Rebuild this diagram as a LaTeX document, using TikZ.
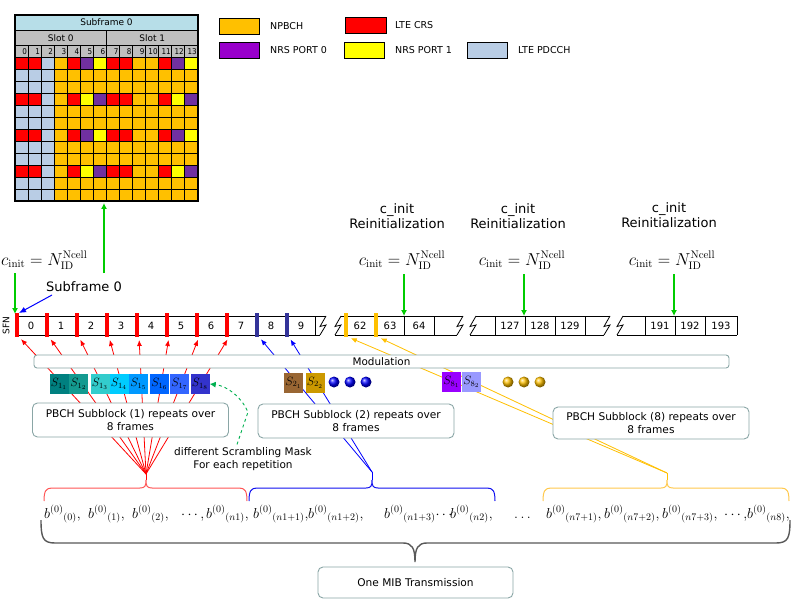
\documentclass[tikz,border=0pt]{standalone}
\usepackage[no-math]{fontspec}
\newfontfamily\vs{DejaVu Sans}
\newfontfamily\vsc{DejaVu Sans Condensed}
\usetikzlibrary{arrows.meta,calc}
\definecolor{cO}{HTML}{FFC000}
\definecolor{cR}{HTML}{FF0000}
\definecolor{cB}{HTML}{B9CDE5}
\definecolor{cP}{HTML}{7030A0}
\definecolor{cY}{HTML}{FFFF00}
\definecolor{lP}{HTML}{9900CC}
\definecolor{hdr}{HTML}{B7DEE8}
\definecolor{sg}{HTML}{BFBFBF}
\definecolor{bord}{HTML}{8AA6A6}
\definecolor{gA}{HTML}{00CC00}
\definecolor{gD}{HTML}{00B050}
\definecolor{navy}{HTML}{333399}
\definecolor{braceR}{HTML}{FF5555}
\definecolor{braceB}{HTML}{1010F0}
\definecolor{braceG}{HTML}{FFC94D}
\definecolor{braceK}{HTML}{595959}
\definecolor{sA}{HTML}{008080}
\definecolor{sB}{HTML}{149A90}
\definecolor{sC}{HTML}{33CCCC}
\definecolor{sD}{HTML}{00CCFF}
\definecolor{sE}{HTML}{0099FF}
\definecolor{sF}{HTML}{0066FF}
\definecolor{sG}{HTML}{3366FF}
\definecolor{sH}{HTML}{3333CC}
\definecolor{sI}{HTML}{996633}
\definecolor{sJ}{HTML}{CC9900}
\definecolor{sK}{HTML}{9900FF}
\definecolor{sL}{HTML}{9999FF}
\tikzset{
  cellbox/.style={draw=black, line width=0.9pt},
  gridtxt/.style={font=\vs\fontsize{9}{10}\selectfont, inner sep=0pt},
  numtxt/.style={font=\vsc\fontsize{8}{9}\selectfont, inner sep=0pt, anchor=east},
  legbox/.style={draw=black, line width=0.8pt},
  legtxt/.style={font=\vs\fontsize{9.5}{11}\selectfont, anchor=west, inner sep=0pt},
  garrow/.style={draw=gA, line width=1.1pt, -{Latex[length=6pt,width=6pt]}},
  mk/.style={minimum width=4pt, minimum height=24pt, inner sep=0pt, outer sep=0pt},
  sfnline/.style={draw=black, line width=0.8pt},
  sfnnum/.style={font=\vs\fontsize{10}{12}\selectfont, inner sep=0pt},
  fml/.style={font=\fontsize{16}{18}\selectfont, inner sep=0pt},
  bigtxt/.style={font=\vs\fontsize{13}{16}\selectfont, inner sep=0pt, align=center},
  fanR/.style={draw=red, line width=0.8pt, -{Latex[length=6pt,width=5pt]}, shorten >=3pt},
  fanB/.style={draw=blue, line width=0.8pt, -{Latex[length=6pt,width=5pt]}, shorten >=3pt},
  fanG/.style={draw=cO, line width=0.8pt, -{Latex[length=6pt,width=5pt]}, shorten >=3pt},
  sbox/.style={minimum width=19pt, minimum height=20pt, inner sep=0pt, font=\fontsize{12}{12}\selectfont},
  callout/.style={draw=bord, fill=white, rounded corners=5pt, line width=0.9pt, align=center,
     font=\vs\fontsize{10.6}{12.5}\selectfont, inner sep=0pt, minimum width=196pt, minimum height=34pt},
  bb/.style={font=\fontsize{14}{15}\selectfont, anchor=base west, inner sep=0pt},
  zz/.pic={\draw[sfnline] (8,0) -- (2,10.5) -- (8,9) -- (2,19);}
}
\begin{document}
\begin{tikzpicture}[x=1pt,y=-1pt]
\useasboundingbox[fill=white] (0,0) rectangle (792,604);
\def\cw{13.0714}
% ---------------- resource grid
\filldraw[fill=hdr, cellbox] (15,15) rectangle (198,30);
\node[gridtxt] (gsf) at (106.5,22.5) {Subframe 0};
\filldraw[fill=sg, cellbox] (15,30) rectangle (106.5,45);
\filldraw[fill=sg, cellbox] (106.5,30) rectangle (198,45);
\node[gridtxt] (gs0) at (60.75,37.8) {Slot 0};
\node[gridtxt] (gs1) at (152.25,37.8) {Slot 1};
\foreach \c in {0,...,13}{
  \filldraw[fill=sg, cellbox] ({15+\c*\cw},45) rectangle ++(\cw,12);
  \node[numtxt] (gn\c) at ({15+(\c+1)*\cw-1},51.3) {\c};
}
\foreach \row [count=\r from 0] in {
 {cR,cR,cB,cO,cR,cP,cY,cR,cR,cO,cO,cR,cP,cY},
 {cB,cB,cB,cO,cO,cO,cO,cO,cO,cO,cO,cO,cO,cO},
 {cB,cB,cB,cO,cO,cO,cO,cO,cO,cO,cO,cO,cO,cO},
 {cR,cR,cB,cO,cR,cY,cP,cR,cR,cO,cO,cR,cY,cP},
 {cB,cB,cB,cO,cO,cO,cO,cO,cO,cO,cO,cO,cO,cO},
 {cB,cB,cB,cO,cO,cO,cO,cO,cO,cO,cO,cO,cO,cO},
 {cR,cR,cB,cO,cR,cP,cY,cR,cR,cO,cO,cR,cP,cY},
 {cB,cB,cB,cO,cO,cO,cO,cO,cO,cO,cO,cO,cO,cO},
 {cB,cB,cB,cO,cO,cO,cO,cO,cO,cO,cO,cO,cO,cO},
 {cR,cR,cB,cO,cR,cY,cP,cR,cR,cO,cO,cR,cY,cP},
 {cB,cB,cB,cO,cO,cO,cO,cO,cO,cO,cO,cO,cO,cO},
 {cB,cB,cB,cO,cO,cO,cO,cO,cO,cO,cO,cO,cO,cO}}{
  \foreach \col [count=\c from 0] in \row {
    \filldraw[fill=\col, cellbox] ({15+\c*\cw},{57+\r*12}) rectangle ++(\cw,12);
  }
}
\draw[line width=1.3pt] (15,15) rectangle (198,201);
% ---------------- legend
\filldraw[fill=cO, legbox] (219,18) rectangle (259,34);
\node[legtxt] (l1) at (270,26) {NPBCH};
\filldraw[fill=cR, legbox] (345,17) rectangle (386,33);
\node[legtxt] (l2) at (395,25) {LTE CRS};
\filldraw[fill=lP, legbox] (219,42) rectangle (259,58);
\node[legtxt] (l3) at (270,50) {NRS PORT 0};
\filldraw[fill=cY, legbox] (344,42) rectangle (384,58);
\node[legtxt] (l4) at (395,50) {NRS PORT 1};
\filldraw[fill=cB, legbox] (467,42) rectangle (507,58);
\node[legtxt] (l5) at (518,50) {LTE PDCCH};
% ---------------- arrow to grid
\coordinate (gridbot) at (104,203);
\coordinate (gsrc) at (104,273);
\draw[garrow] (gsrc) -- (gridbot);
% ---------------- c_init formulas
\node[fml, anchor=base west] (ci0) at (1,265) {$c_{\mathrm{init}} = N_{\mathrm{ID}}^{\mathrm{Ncell}}$};
\node[fml, anchor=base] (ci1) at (402,265) {$c_{\mathrm{init}} = N_{\mathrm{ID}}^{\mathrm{Ncell}}$};
\node[fml, anchor=base] (ci2) at (522,265) {$c_{\mathrm{init}} = N_{\mathrm{ID}}^{\mathrm{Ncell}}$};
\node[fml, anchor=base] (ci3) at (672,265) {$c_{\mathrm{init}} = N_{\mathrm{ID}}^{\mathrm{Ncell}}$};
\node[bigtxt] (re1) at (397,216) {c\_init\\[-1pt]Reinitialization};
\node[bigtxt] (re2) at (518,216) {c\_init\\[-1pt]Reinitialization};
\node[bigtxt] (re3) at (669,215) {c\_init\\[-1pt]Reinitialization};
\node[bigtxt] (sub0) at (84,287) {Subframe 0};
% ---------------- SFN row
\node[font=\vs\fontsize{9}{10}\selectfont, rotate=90, inner sep=0pt] (sfn) at (6,325.5) {SFN};
% segment 1
\draw[sfnline] (15,316) -- (326,316);
\draw[sfnline] (15,335) -- (320,335);
\foreach \x in {15,45,...,315}{ \draw[sfnline] (\x,316) -- (\x,335); }
\pic at (318,316) {zz};
% segment 2
\pic at (333,316) {zz};
\draw[sfnline] (341,316) -- (463,316);
\draw[sfnline] (335,335) -- (457,335);
\foreach \x in {344,374,404,434}{ \draw[sfnline] (\x,316) -- (\x,335); }
\pic at (455,316) {zz};
% segment 3
\pic at (468,316) {zz};
\draw[sfnline] (476,316) -- (610,316);
\draw[sfnline] (470,335) -- (604,335);
\foreach \x in {495,525,555,585}{ \draw[sfnline] (\x,316) -- (\x,335); }
\pic at (602,316) {zz};
% segment 4
\pic at (615,316) {zz};
\draw[sfnline] (623,316) -- (737,316);
\draw[sfnline] (617,335) -- (737,335);
\foreach \x in {645,675,705,737}{ \draw[sfnline] (\x,316) -- (\x,335); }
% numbers
\foreach \n [count=\k from 0] in {0,...,9}{ \node[sfnnum] (n\n) at ({31+30*\k},326) {\n}; }
\node[sfnnum] (n62) at (360,326) {62};
\node[sfnnum] (n63) at (390,326) {63};
\node[sfnnum] (n64) at (419,326) {64};
\node[sfnnum] (n127) at (510,326) {127};
\node[sfnnum] (n128) at (540,326) {128};
\node[sfnnum] (n129) at (570,326) {129};
\node[sfnnum] (n191) at (660,326) {191};
\node[sfnnum] (n192) at (690,326) {192};
\node[sfnnum] (n193) at (721,326) {193};
% markers
\foreach \k in {0,...,7}{ \node[mk, fill=cR] (m\k) at ({17+30*\k},325) {}; }
\node[mk, fill=navy] (m8) at (257,325) {};
\node[mk, fill=navy] (m9) at (287,325) {};
\node[mk, fill=cO] (m62) at (346,325) {};
\node[mk, fill=cO] (m63) at (376,325) {};
% green arrows
\coordinate (t0) at (15,314);
\coordinate (t1) at (404,316);
\coordinate (t2) at (524,316);
\coordinate (t3) at (674,316);
\draw[garrow] (15,273) -- (t0);
\draw[garrow] (ci1.south -| t1) ++(0,5) -- (t1);
\draw[garrow] (ci2.south -| t2) ++(0,5) -- (t2);
\draw[garrow] (ci3.south -| t3) ++(0,5) -- (t3);
\coordinate (bs) at (52,295);
\draw[draw=blue, line width=1pt, -{Latex[length=7pt,width=6pt]}] (bs) -- (19,313);
% ---------------- fan lines
\coordinate (rapex) at (146,474);
\coordinate (bapex) at (372,472);
\coordinate (gapex) at (667,473);
\foreach \k in {0,...,7}{ \draw[fanR] (rapex) -- (m\k.south east); }
\draw[fanB] (bapex) -- (m8.south east);
\draw[fanB] (bapex) -- (m9.south east);
\draw[fanG] (gapex) -- (m62.south east);
\draw[fanG] (gapex) -- (m63.south east);
\draw[draw=red, line width=0.8pt] (rapex) -- (146,480);
\draw[draw=blue, line width=0.8pt] (bapex) -- (372,480);
\draw[draw=cO, line width=0.8pt] (gapex) -- (667,480);
% ---------------- modulation bar
\node[draw=bord, fill=white, rounded corners=3pt, line width=0.9pt, minimum width=695pt, minimum height=13pt,
      inner sep=0pt, font=\vs\fontsize{10.4}{12}\selectfont] (mod) at (381.5,361.5) {Modulation};
% ---------------- subblock symbols
\node[sbox, fill=sA] (s11) at (59,384) {$S_{1_1}$};
\node[sbox, fill=sB] (s12) at (78.5,384) {$S_{1_2}$};
\node[sbox, fill=sC] (s13) at (100,384) {$S_{1_3}$};
\node[sbox, fill=sD] (s14) at (119,384) {$S_{1_4}$};
\node[sbox, fill=sE] (s15) at (138.5,384) {$S_{1_5}$};
\node[sbox, fill=sF] (s16) at (159.5,384) {$S_{1_6}$};
\node[sbox, fill=sG] (s17) at (179.5,384) {$S_{1_7}$};
\node[sbox, fill=sH] (s18) at (200,384) {$S_{1_8}$};
\node[sbox, fill=sI] (s21) at (293.5,382.5) {$S_{2_1}$};
\node[sbox, fill=sJ] (s22) at (315,382.5) {$S_{2_2}$};
\node[sbox, fill=sK] (s81) at (451.5,382) {$S_{8_1}$};
\node[sbox, fill=sL] (s82) at (471.5,382) {$S_{8_2}$};
\foreach \x in {334,350,366}{ \shade[ball color=blue] (\x,382) circle (5.5pt); }
\foreach \x in {508,524,540}{ \shade[ball color=cO] (\x,382) circle (5.5pt); }
% ---------------- callouts
\node[callout] (c1) at (130.5,420) {PBCH Subblock (1) repeats over\\8 frames};
\node[callout] (c2) at (356,421) {PBCH Subblock (2) repeats over\\8 frames};
\node[callout, minimum height=32pt] (c8) at (651,423) {PBCH Subblock (8) repeats over\\8 frames};
\node[font=\vs\fontsize{10.5}{12.5}\selectfont, align=center, inner sep=0pt] (scr) at (243,459)
   {different Scrambling Mask\\For each repetition};
\draw[draw=gD, line width=0.9pt, dashed, -{Latex[length=6pt,width=6pt]}]
   ($(scr.north)+(-6,-3)$) -- (248,412) .. controls (242,398) and (228,386) .. (s18.east);
% ---------------- coloured braces
\draw[draw=braceR, line width=1pt] (44,501) .. controls (44,491) and (46,488) .. (52,488) -- (140,488)
   .. controls (145,488) and (146,486) .. (146,480) .. controls (146,486) and (147,488) .. (152,488)
   -- (239,488) .. controls (245,488) and (247,491) .. (247,501);
\draw[draw=braceB, line width=1pt] (249,501) .. controls (249,491) and (251,488) .. (257,488) -- (366,488)
   .. controls (371,488) and (372,486) .. (372,480) .. controls (372,486) and (373,488) .. (378,488)
   -- (487,488) .. controls (493,488) and (495,491) .. (495,501);
\draw[draw=braceG, line width=1pt] (543,501) .. controls (543,491) and (545,488) .. (551,488) -- (661,488)
   .. controls (666,488) and (667,486) .. (667,480) .. controls (667,486) and (668,488) .. (673,488)
   -- (781,488) .. controls (787,488) and (789,491) .. (789,501);
% ---------------- bit sequence
\node[bb] (b1) at (44,518) {$b^{(0)}{}_{(0)},$};
\node[bb] (b2) at (88,518) {$b^{(0)}{}_{(1)},$};
\node[bb] (b3) at (132,518) {$b^{(0)}{}_{(2)},$};
\node[bb] (b4) at (181,518) {$\cdots,$};
\node[bb] (b5) at (206,518) {$b^{(0)}{}_{(n1)},$};
\node[bb] (b6) at (253,518) {$b^{(0)}{}_{(n1+1)},$};
\node[bb] (b7) at (308,518) {$b^{(0)}{}_{(n1+2)},$};
\node[bb] (b8) at (384,518) {$b^{(0)}{}_{(n1+3)}\!\cdots$};
\node[bb] (b10) at (450,518) {$b^{(0)}{}_{(n2)},$};
\node[bb] (b11) at (514,518) {$\ldots$};
\node[bb] (b12) at (546,518) {$b^{(0)}{}_{(n7+1)},$};
\node[bb] (b13) at (604,518) {$b^{(0)}{}_{(n7+2)},$};
\node[bb] (b14) at (662,518) {$b^{(0)}{}_{(n7+3)},$};
\node[bb] (b15) at (724,518) {$\cdots,$};
\node[bb] (b16) at (747,518) {$b^{(0)}{}_{(n8)},$};
% ---------------- big brace
\draw[draw=braceK, line width=1.4pt] (41,520) .. controls (41,538) and (43,543) .. (55,543) -- (403,543)
   .. controls (412,543) and (415,548) .. (415,562) .. controls (415,548) and (418,543) .. (427,543)
   -- (776,543) .. controls (788,543) and (790,538) .. (790,520);
\node[callout, minimum width=195pt, minimum height=31pt] (mib) at (415.5,582.5) {One MIB Transmission};
\end{tikzpicture}
\end{document}
